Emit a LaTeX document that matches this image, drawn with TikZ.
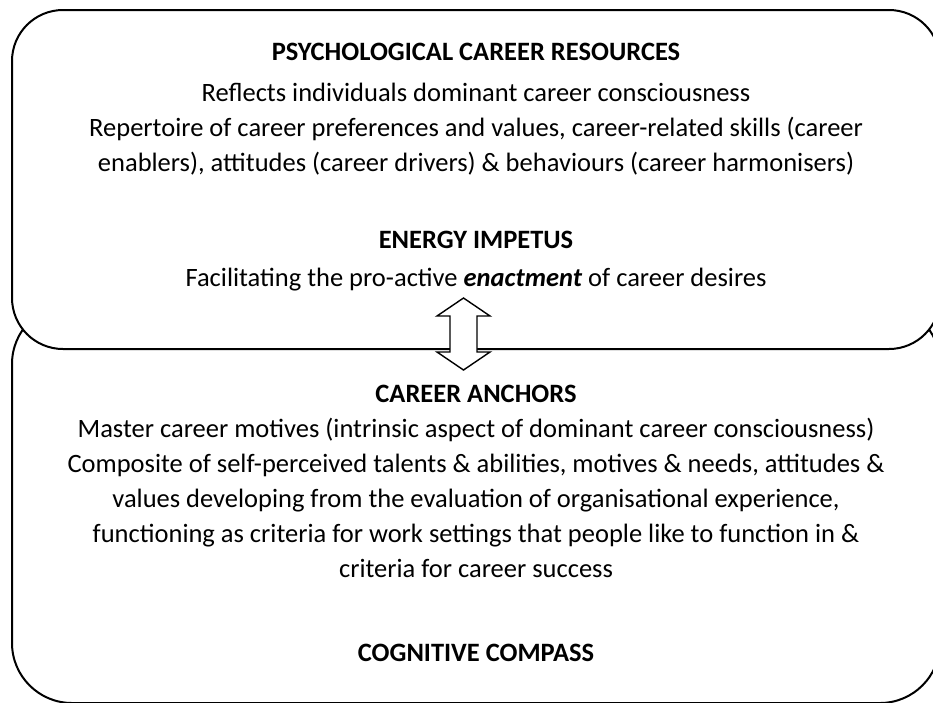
\documentclass[tikz,border=0pt]{standalone}
\usepackage{fontspec}
\setmainfont{Carlito}
\begin{document}
\begin{tikzpicture}[x=1pt,y=-1pt,
  box/.style={draw=black, line width=2pt, fill=white, rounded corners=#1, inner sep=0pt, outer sep=0pt},
  txt/.style={anchor=base, inner sep=0pt, font=\fontsize{26.5}{35}\selectfont},
  hd/.style={anchor=base, inner sep=0pt, font=\fontsize{26.5}{35}\selectfont\bfseries},
  arrowshape/.style={draw=black, line width=1.4pt, fill=white, line join=miter}]
\useasboundingbox (0,0) rectangle (933,702);
\clip (0,0) rectangle (933,702);
% boxes
\node[box=60pt, minimum width=928pt, minimum height=399pt] (bot) at (476,503.5) {};
\node[box=51pt, minimum width=928pt, minimum height=339pt] (top) at (476,179.5) {};
% double arrow
\coordinate (ar) at (463.5,334);
\begin{scope}[shift={(ar)}]
\draw[arrowshape] (0,-36) -- (26.5,-18) -- (13.5,-18) -- (13.5,18) -- (26.5,18) -- (0,36)
  -- (-26.5,18) -- (-13.5,18) -- (-13.5,-18) -- (-26.5,-18) -- cycle;
\end{scope}
% top box text
\node[hd] (t1) at (476,60) {PSYCHOLOGICAL CAREER RESOURCES};
\node[txt] (t2) at (476,101) {Reflects individuals dominant career consciousness};
\node[txt] (t3) at (476,136) {Repertoire of career preferences and values, career-related skills (career};
\node[txt] (t4) at (476,171) {enablers), attitudes (career drivers) \& behaviours (career harmonisers)};
\node[hd] (t5) at (476,248) {ENERGY IMPETUS};
\node[txt] (t6) at (476,286) {Facilitating the pro-active \textbf{\textit{enactment}} of career desires};
% bottom box text
\node[hd] (b1) at (476,402) {CAREER ANCHORS};
\node[txt] (b2) at (476,437) {Master career motives (intrinsic aspect of dominant career consciousness)};
\node[txt] (b3) at (476,472) {Composite of self-perceived talents \& abilities, motives \& needs, attitudes \&};
\node[txt] (b4) at (476,507) {values developing from the evaluation of organisational experience,};
\node[txt] (b5) at (476,542) {functioning as criteria for work settings that people like to function in \&};
\node[txt] (b6) at (476,577) {criteria for career success};
\node[hd] (b7) at (476,661) {COGNITIVE COMPASS};
\end{tikzpicture}
\end{document}
